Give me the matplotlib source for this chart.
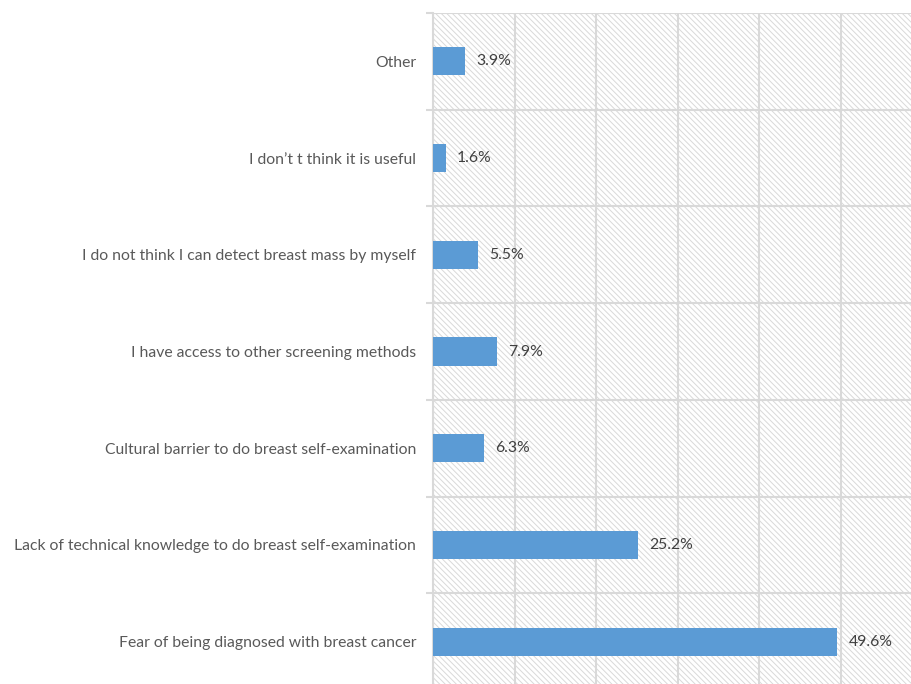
import numpy as np
import matplotlib
matplotlib.use("Agg")
import matplotlib.pyplot as plt
from matplotlib.patches import Rectangle

categories = [
    "Fear of being diagnosed with breast cancer",
    "Lack of technical knowledge to do breast self-examination",
    "Cultural barrier to do breast self-examination",
    "I have access to other screening methods",
    "I do not think I can detect breast mass by myself",
    "I don\u2019t t think it is useful",
    "Other",
]
values = [49.6, 25.2, 6.3, 7.9, 5.5, 1.6, 3.9]

plt.rcParams['font.family'] = ['Lato', 'DejaVu Sans']
plt.rcParams['hatch.linewidth'] = 0.7
plt.rcParams['hatch.color'] = '#d9d9d9'

fig = plt.figure(figsize=(9.11, 6.84), dpi=100)
ax = fig.add_axes([433/911, -6/684, 489/911, 677/684])

# hatched background
bg = Rectangle((0, 0), 1, 1, transform=ax.transAxes, facecolor='white',
               edgecolor='#d9d9d9', hatch='\\\\\\\\\\\\', linewidth=0, zorder=0)
ax.add_patch(bg)

y = np.arange(len(categories))
ax.barh(y, values, height=0.29, color='#5b9bd5', zorder=3)

for yi, v in zip(y, values):
    ax.annotate(f"{v}%", (v, yi), xytext=(8, 0), textcoords='offset points',
                va='center', ha='left', fontsize=11.3, color='#404040', zorder=4)

ax.set_xlim(0, 60)
ax.set_ylim(-0.5, len(categories) - 0.5)
ax.set_xticks(np.arange(0, 61, 10))
ax.set_xticklabels([])
ax.tick_params(axis='x', length=0)
ax.grid(axis='x', color='#d9d9d9', linewidth=1.5, zorder=1)

ax.set_yticks(y)
ax.set_yticklabels(categories, fontsize=11.3, color='#595959')
ax.tick_params(axis='y', which='major', length=0, pad=12)
ax.set_yticks(np.arange(-0.5, len(categories), 1), minor=True)
ax.tick_params(axis='y', which='minor', length=5, color='#d9d9d9', width=1.5)
ax.grid(axis='y', which='minor', color='#d9d9d9', linewidth=1.5, zorder=1)

for s in ['top', 'right', 'bottom']:
    ax.spines[s].set_visible(False)
ax.spines['left'].set_color('#d9d9d9')
ax.spines['left'].set_linewidth(1.5)
ax.set_axisbelow(True)

fig.savefig("out.png", dpi=100)
